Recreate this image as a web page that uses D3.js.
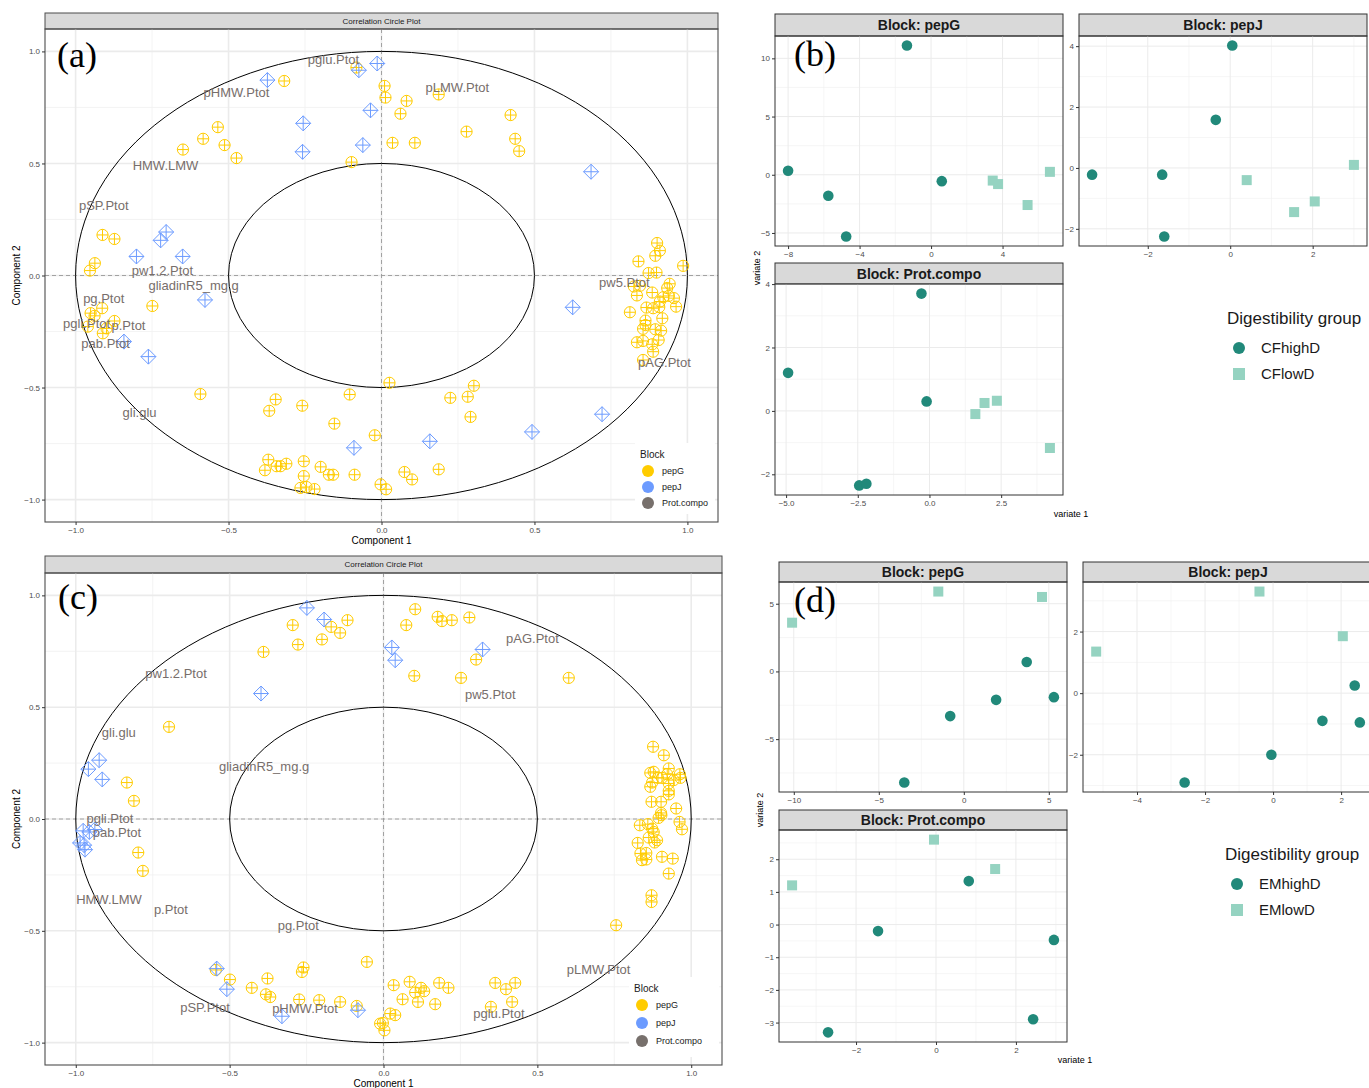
<!DOCTYPE html>
<html>
<head>
<meta charset="utf-8">
<script src="https://cdn.jsdelivr.net/npm/d3@7"></script>
<style>
  body { margin: 0; background: #fff; }
  text { font-family: 'Liberation Sans', Arial, sans-serif; }
</style>
</head>
<body>
<script>
// ---- data: correlation circle (a) ----
const pepG_a = [
  [-0.318, 0.868], [-0.535, 0.662], [-0.583, 0.610], [-0.649, 0.562], [-0.513, 0.582], [-0.474, 0.524], [-0.098, 0.506], [-0.082, 0.928],
  [0.010, 0.846], [0.013, 0.794], [0.082, 0.779], [0.062, 0.722], [0.187, 0.808], [0.422, 0.716], [0.278, 0.642], [0.437, 0.610], [0.450, 0.555], [0.036, 0.592], [0.109, 0.592],
  [-0.912, 0.181], [-0.873, 0.163], [-0.937, 0.055], [-0.953, 0.022],
  [0.901, 0.145], [0.910, 0.111], [0.895, 0.088], [0.840, 0.063], [0.986, 0.043], [0.873, 0.011], [0.899, 0.013], [0.825, -0.049], [0.845, -0.046],
  [0.885, -0.076], [0.835, -0.089], [0.942, -0.037], [0.934, -0.056], [0.921, -0.097], [0.910, -0.116], [0.956, -0.101], [0.939, -0.091], [0.963, -0.139],
  [0.866, -0.143], [0.888, -0.146], [0.908, -0.141], [0.812, -0.164], [0.918, -0.191], [0.863, -0.201], [0.863, -0.221], [0.855, -0.238], [0.895, -0.240],
  [0.914, -0.246], [0.835, -0.298], [0.855, -0.292], [0.906, -0.288], [0.885, -0.307], [0.888, -0.340], [0.855, -0.377],
  [0.026, -0.479], [0.302, -0.492], [0.225, -0.546], [0.282, -0.541], [0.291, -0.631], [-0.022, -0.713], [0.075, -0.877], [0.100, -0.910], [0.187, -0.865], [-0.003, -0.932], [0.015, -0.954],
  [-0.749, -0.136], [-0.913, -0.146], [-0.951, -0.168], [-0.938, -0.180], [-0.873, -0.203], [-0.960, -0.228], [-0.899, -0.236], [-0.911, -0.258],
  [-0.592, -0.529], [-0.346, -0.553], [-0.367, -0.604], [-0.259, -0.581], [-0.104, -0.531], [-0.154, -0.661], [-0.370, -0.822], [-0.381, -0.869], [-0.343, -0.851],
  [-0.330, -0.851], [-0.311, -0.840], [-0.254, -0.829], [-0.254, -0.895], [-0.199, -0.854], [-0.172, -0.889], [-0.158, -0.889], [-0.088, -0.889], [-0.265, -0.948], [-0.245, -0.944], [-0.219, -0.953]
]
const pepJ_a = [
  [-0.373, 0.872], [-0.256, 0.679], [-0.258, 0.552], [-0.061, 0.582], [-0.036, 0.737], [-0.074, 0.916], [-0.014, 0.946], [-0.704, 0.194], [-0.722, 0.157], [-0.801, 0.085],
  [-0.650, 0.085], [0.685, 0.463], [-0.577, -0.109], [-0.842, -0.295], [-0.762, -0.362], [-0.090, -0.769], [0.158, -0.740], [0.492, -0.698], [0.721, -0.619], [0.625, -0.142]
]
const protVars_a = [
  ['pglu.Ptot', -0.157, 0.965], ['pHMW.Ptot', -0.474, 0.818], ['pLMW.Ptot', 0.248, 0.840], ['HMW.LMW', -0.706, 0.491], ['pSP.Ptot', -0.908, 0.312],
  ['pw1.2.Ptot', -0.716, 0.021], ['gliadinR5_mg.g', -0.614, -0.046], ['pg.Ptot', -0.908, -0.104], ['pgli.Ptot', -0.964, -0.212], ['p.Ptot', -0.827, -0.221],
  ['pab.Ptot', -0.902, -0.301], ['gli.glu', -0.791, -0.610], ['pw5.Ptot', 0.794, -0.033], ['pAG.Ptot', 0.925, -0.386]
]

// ---- data: correlation circle (c) ----
const pepG_c = [
  [-0.295, 0.867], [-0.278, 0.780], [-0.390, 0.747], [-0.200, 0.803], [-0.170, 0.859], [-0.141, 0.832], [-0.117, 0.889], [-0.697, 0.412], [-0.834, 0.163], [-0.811, 0.081],
  [0.103, 0.938], [0.074, 0.867], [0.176, 0.904], [0.190, 0.885], [0.222, 0.889], [0.279, 0.901], [0.301, 0.713], [0.100, 0.640], [0.252, 0.631], [0.602, 0.631],
  [0.876, 0.323], [0.911, 0.285], [0.867, 0.206], [0.878, 0.211], [0.927, 0.226], [0.922, 0.200], [0.963, 0.200], [0.965, 0.184], [0.892, 0.184], [0.905, 0.184],
  [0.943, 0.174], [0.927, 0.159], [0.867, 0.144], [0.873, 0.163], [0.927, 0.126], [0.927, 0.110], [0.871, 0.077], [0.902, 0.077], [0.951, 0.047], [0.902, 0.027],
  [0.894, 0.005], [0.962, -0.013], [0.833, -0.028], [0.859, -0.023], [0.873, -0.043], [0.903, 0.017], [0.970, -0.046], [0.878, -0.058], [0.862, -0.083], [0.889, -0.095],
  [0.881, -0.105], [0.826, -0.107], [0.835, -0.154], [0.854, -0.152], [0.840, -0.184], [0.854, -0.181], [0.905, -0.169], [0.940, -0.177], [0.927, -0.244], [0.871, -0.341],
  [0.871, -0.371], [0.756, -0.475],
  [-0.054, -0.639], [0.033, -0.743], [0.085, -0.728], [0.062, -0.806], [0.103, -0.776], [0.122, -0.755], [0.132, -0.770], [0.112, -0.818], [0.181, -0.733], [0.211, -0.755],
  [0.168, -0.828], [0.022, -0.870], [0.038, -0.877], [-0.002, -0.912], [0.003, -0.945], [0.363, -0.733], [0.398, -0.761], [0.428, -0.733], [0.349, -0.840], [0.418, -0.818],
  [-0.797, -0.150], [-0.782, -0.232],
  [-0.545, -0.675], [-0.499, -0.718], [-0.428, -0.755], [-0.377, -0.713], [-0.382, -0.784], [-0.368, -0.796], [-0.274, -0.807], [-0.260, -0.664], [-0.265, -0.684],
  [-0.209, -0.810], [-0.141, -0.818], [-0.087, -0.836], [-0.011, -0.915]
]
const pepJ_c = [
  [-0.249, 0.944], [-0.193, 0.892], [-0.398, 0.561], [-0.924, 0.263], [-0.959, 0.223], [-0.914, 0.177], [0.027, 0.767], [0.038, 0.710], [0.322, 0.758],
  [-0.976, -0.053], [-0.956, -0.058], [-0.938, -0.047], [-0.986, -0.107], [-0.973, -0.117], [-0.970, -0.137], [-0.542, -0.669], [-0.509, -0.761], [-0.330, -0.882], [-0.083, -0.855]
]
const protVars_c = [
  ['pw1.2.Ptot', -0.674, 0.652], ['gli.glu', -0.860, 0.388], ['gliadinR5_mg.g', -0.388, 0.236], ['pAG.Ptot', 0.484, 0.808], ['pw5.Ptot', 0.347, 0.558],
  ['pgli.Ptot', -0.889, 0.002], ['pab.Ptot', -0.866, -0.060], ['HMW.LMW', -0.892, -0.359], ['p.Ptot', -0.691, -0.403], ['pg.Ptot', -0.277, -0.475],
  ['pSP.Ptot', -0.580, -0.841], ['pHMW.Ptot', -0.255, -0.846], ['pLMW.Ptot', 0.699, -0.672], ['pglu.Ptot', 0.375, -0.869]
]
const blockNames = ['pepG', 'pepJ', 'Prot.compo']
const blockColors = ['#FFCC00', '#6C9BFF', '#77706C']

// ---- data: sample plots (b) CF groups ----
const b_pepG_high = [[-1.35, 11.1], [-8.0, 0.35], [-5.75, -1.8], [-4.75, -5.3], [0.6, -0.55]]
const b_pepG_low = [[3.45, -0.5], [3.75, -0.8], [5.4, -2.6], [6.65, 0.25]]
const b_pepJ_high = [[0.05, 4.02], [-0.35, 1.58], [-3.35, -0.22], [-1.65, -0.22], [-1.6, -2.25]]
const b_pepJ_low = [[0.4, -0.4], [1.55, -1.45], [2.05, -1.1], [3.0, 0.1]]
const b_prot_high = [[-0.28, 3.7], [-4.93, 1.2], [-0.1, 0.3], [-2.45, -2.35], [-2.2, -2.3]]
const b_prot_low = [[1.6, -0.1], [1.92, 0.25], [2.35, 0.32], [4.2, -1.17]]

// ---- data: sample plots (d) EM groups ----
const d_pepG_high = [[3.7, 0.7], [1.9, -2.1], [5.3, -1.9], [-0.8, -3.3], [-3.5, -8.2]]
const d_pepG_low = [[-10.1, 3.6], [-1.5, 5.9], [4.6, 5.5]]
const d_pepJ_high = [[2.4, 0.25], [2.55, -0.95], [1.45, -0.9], [-0.05, -2.0], [-2.6, -2.9]]
const d_pepJ_low = [[-5.2, 1.35], [-0.4, 3.3], [2.05, 1.85]]
const d_prot_high = [[0.82, 1.33], [-1.45, -0.2], [2.95, -0.47], [-2.7, -3.3], [2.43, -2.9]]
const d_prot_low = [[-3.6, 1.2], [-0.05, 2.6], [1.48, 1.7]]

const groupColors = ['#21897A', '#95D3C1']

const svg = d3.select('body').append('svg')
  .attr('width', 1369).attr('height', 1088)
  .attr('viewBox', '0 0 1369 1088')

const TICK_COLOR = '#4D4D4D'
const BORDER = '#4D4D4D'

const drawGrid = (g, x, y, xMajor, yMajor, xMinor, yMinor, major = 1.4, minor = 0.7) => {
  const [x0, x1] = x.range()
  const [y1, y0] = y.range()
  xMinor.forEach(v => g.append('line').attr('x1', x(v)).attr('x2', x(v)).attr('y1', y0).attr('y2', y1).attr('stroke', '#F0F0F0').attr('stroke-width', minor))
  yMinor.forEach(v => g.append('line').attr('y1', y(v)).attr('y2', y(v)).attr('x1', x0).attr('x2', x1).attr('stroke', '#F0F0F0').attr('stroke-width', minor))
  xMajor.forEach(v => g.append('line').attr('x1', x(v)).attr('x2', x(v)).attr('y1', y0).attr('y2', y1).attr('stroke', '#EBEBEB').attr('stroke-width', major))
  yMajor.forEach(v => g.append('line').attr('y1', y(v)).attr('y2', y(v)).attr('x1', x0).attr('x2', x1).attr('stroke', '#EBEBEB').attr('stroke-width', major))
}

const styleAxis = (a, size) => a
  .call(s => s.select('.domain').remove())
  .call(s => s.selectAll('line').attr('stroke', '#333'))
  .call(s => s.selectAll('text').attr('fill', TICK_COLOR).style('font-size', size + 'px').style('font-family', "'Liberation Sans', Arial, sans-serif"))

const drawAxes = (g, x, y, xTicks, yTicks, xFmt, yFmt, size = 8) => {
  const [x0] = x.range()
  const [y1] = y.range()
  g.append('g').attr('transform', `translate(0,${y1})`)
    .call(d3.axisBottom(x).tickValues(xTicks).tickFormat(xFmt).tickSize(3).tickSizeOuter(0).tickPadding(2))
    .call(a => styleAxis(a, size))
  g.append('g').attr('transform', `translate(${x0},0)`)
    .call(d3.axisLeft(y).tickValues(yTicks).tickFormat(yFmt).tickSize(3).tickSizeOuter(0).tickPadding(2))
    .call(a => styleAxis(a, size))
}

// ---- correlation circle panel ----
const drawCorr = (cfg) => {
  const g = svg.append('g')
  const x = d3.scaleLinear().domain([-1.1, 1.1]).range([cfg.left, cfg.right])
  const y = d3.scaleLinear().domain([-1.1, 1.1]).range([cfg.bottom, cfg.top])

  // strip
  g.append('rect').attr('x', cfg.left).attr('y', cfg.stripTop).attr('width', cfg.right - cfg.left).attr('height', cfg.top - cfg.stripTop)
    .attr('fill', '#D9D9D9').attr('stroke', BORDER).attr('stroke-width', 1)
  g.append('text').attr('x', (cfg.left + cfg.right) / 2).attr('y', (cfg.top + cfg.stripTop) / 2).attr('dy', '0.35em')
    .attr('text-anchor', 'middle').style('font-size', '8px').attr('fill', '#1A1A1A').text('Correlation Circle Plot')

  drawGrid(g, x, y, [-1, -0.5, 0, 0.5, 1], [-1, -0.5, 0, 0.5, 1], [-0.75, -0.25, 0.25, 0.75], [-0.75, -0.25, 0.25, 0.75], 1.6, 0.8)

  // dashed zero lines
  g.append('line').attr('x1', x(0)).attr('x2', x(0)).attr('y1', cfg.top).attr('y2', cfg.bottom)
    .attr('stroke', '#9A9A9A').attr('stroke-dasharray', '4,3').attr('stroke-width', 0.9)
  g.append('line').attr('y1', y(0)).attr('y2', y(0)).attr('x1', cfg.left).attr('x2', cfg.right)
    .attr('stroke', '#9A9A9A').attr('stroke-dasharray', '4,3').attr('stroke-width', 0.9)

  // circles r=1, r=0.5
  ;[1, 0.5].forEach(r => {
    g.append('ellipse').attr('cx', x(0)).attr('cy', y(0))
      .attr('rx', x(r) - x(0)).attr('ry', y(0) - y(r))
      .attr('fill', 'none').attr('stroke', '#000').attr('stroke-width', 1)
  })

  // pepG: circle-plus
  const gp = g.append('g').attr('stroke', blockColors[0]).attr('fill', 'none').attr('stroke-width', 1)
  cfg.pepG.forEach(([vx, vy]) => {
    const cx = x(vx), cy = y(vy), r = 5.6
    gp.append('circle').attr('cx', cx).attr('cy', cy).attr('r', r)
    gp.append('path').attr('d', `M${cx - r},${cy}H${cx + r}M${cx},${cy - r}V${cy + r}`)
  })
  // pepJ: diamond-plus
  const gj = g.append('g').attr('stroke', blockColors[1]).attr('fill', 'none').attr('stroke-width', 1)
  cfg.pepJ.forEach(([vx, vy]) => {
    const cx = x(vx), cy = y(vy), r = 7.5
    gj.append('path').attr('d', `M${cx},${cy - r}L${cx + r},${cy}L${cx},${cy + r}L${cx - r},${cy}Z`)
    gj.append('path').attr('d', `M${cx - r},${cy}H${cx + r}M${cx},${cy - r}V${cy + r}`)
  })

  // Prot.compo variable names
  g.append('g').selectAll('text').data(cfg.prot).join('text')
    .attr('x', d => x(d[1])).attr('y', d => y(d[2])).attr('dy', '0.35em')
    .attr('text-anchor', 'middle').attr('fill', '#776E6B').style('font-size', '13px')
    .text(d => d[0])

  // border
  g.append('rect').attr('x', cfg.left).attr('y', cfg.top).attr('width', cfg.right - cfg.left).attr('height', cfg.bottom - cfg.top)
    .attr('fill', 'none').attr('stroke', BORDER).attr('stroke-width', 1.1)

  const f1 = d3.format('.1f')
  drawAxes(g, x, y, [-1, -0.5, 0, 0.5, 1], [-1, -0.5, 0, 0.5, 1], f1, f1)

  g.append('text').attr('x', x(0)).attr('y', cfg.bottom + 18).attr('dy', '0.35em').attr('text-anchor', 'middle').style('font-size', '10px').text('Component  1')
  g.append('text').attr('transform', `translate(${cfg.left - 29},${y(0)}) rotate(-90)`).attr('dy', '0.35em').attr('text-anchor', 'middle').style('font-size', '10px').text('Component  2')

  // legend
  const L = cfg.legend
  g.append('rect').attr('x', L.x).attr('y', L.y).attr('width', L.w).attr('height', L.h).attr('fill', '#fff')
  g.append('text').attr('x', L.x + 5).attr('y', L.y + 11).attr('dy', '0.35em').style('font-size', '10px').attr('fill', '#1A1A1A').text('Block')
  blockNames.forEach((name, i) => {
    const cy = L.y + 28 + i * L.step
    g.append('circle').attr('cx', L.x + 13).attr('cy', cy).attr('r', 6).attr('fill', blockColors[i])
    g.append('text').attr('x', L.x + 27).attr('y', cy).attr('dy', '0.35em').style('font-size', '9px').attr('fill', '#1A1A1A').text(name)
  })
}

// ---- faceted sample plot ----
const expand = (vals) => {
  const [a, b] = d3.extent(vals)
  const e = (b - a) * 0.05
  return [a - e, b + e]
}

const drawFacet = (p) => {
  const g = svg.append('g')
  const all = p.high.concat(p.low)
  const x = d3.scaleLinear().domain(expand(all.map(d => d[0]))).range([p.x0, p.x1])
  const y = d3.scaleLinear().domain(expand(all.map(d => d[1]))).range([p.bottom, p.top])

  const clipId = 'clip' + Math.round(p.x0) + '_' + Math.round(p.top)
  g.append('clipPath').attr('id', clipId).append('rect').attr('x', p.x0).attr('y', p.top).attr('width', p.x1 - p.x0).attr('height', p.bottom - p.top)

  g.append('rect').attr('x', p.x0).attr('y', p.stripTop).attr('width', p.x1 - p.x0).attr('height', p.top - p.stripTop)
    .attr('fill', '#D9D9D9').attr('stroke', '#333').attr('stroke-width', 1)
  g.append('text').attr('x', (p.x0 + p.x1) / 2).attr('y', (p.top + p.stripTop) / 2).attr('dy', '0.36em')
    .attr('text-anchor', 'middle').style('font-size', '14px').style('font-weight', 'bold').attr('fill', '#1A1A1A').text(p.title)

  const gg = g.append('g').attr('clip-path', `url(#${clipId})`)
  drawGrid(gg, x, y, p.xTicks, p.yTicks, p.xMinor, p.yMinor, 1, 0.6)

  gg.selectAll('rect.low').data(p.low).join('rect').attr('class', 'low')
    .attr('x', d => x(d[0]) - 5).attr('y', d => y(d[1]) - 5).attr('width', 10).attr('height', 10)
    .attr('fill', groupColors[1])
  gg.selectAll('circle.high').data(p.high).join('circle').attr('class', 'high')
    .attr('cx', d => x(d[0])).attr('cy', d => y(d[1])).attr('r', 5.3)
    .attr('fill', groupColors[0])

  g.append('rect').attr('x', p.x0).attr('y', p.top).attr('width', p.x1 - p.x0).attr('height', p.bottom - p.top)
    .attr('fill', 'none').attr('stroke', '#333').attr('stroke-width', 1)

  drawAxes(g, x, y, p.xTicks, p.yTicks, p.xFmt || d3.format('d'), d3.format('d'), 8)
}

const drawGroupLegend = (lx, ly, names) => {
  const g = svg.append('g')
  g.append('text').attr('x', lx).attr('y', ly).attr('dy', '0.35em').style('font-size', '17px').attr('fill', '#1A1A1A').text('Digestibility group')
  g.append('circle').attr('cx', lx + 12).attr('cy', ly + 30).attr('r', 6).attr('fill', groupColors[0])
  g.append('rect').attr('x', lx + 6).attr('y', ly + 50).attr('width', 12).attr('height', 12).attr('fill', groupColors[1])
  names.forEach((n, i) => {
    g.append('text').attr('x', lx + 34).attr('y', ly + 30 + i * 26).attr('dy', '0.35em').style('font-size', '15px').attr('fill', '#1A1A1A').text(n)
  })
}

const tag = (label, tx, ty) => svg.append('text').attr('x', tx).attr('y', ty)
  .style('font-family', "'Liberation Serif', 'Times New Roman', serif").style('font-size', '36px').attr('fill', '#000').text(label)

// (a)
drawCorr({
  left: 45, right: 718, stripTop: 13, top: 29, bottom: 522,
  pepG: pepG_a, pepJ: pepJ_a, prot: protVars_a,
  legend: { x: 635, y: 443, w: 80, h: 71, step: 16 }
})

// (c)
drawCorr({
  left: 45, right: 722, stripTop: 556, top: 573, bottom: 1065,
  pepG: pepG_c, pepJ: pepJ_c, prot: protVars_c,
  legend: { x: 629, y: 977, w: 90, h: 80, step: 18 }
})

// (b)
drawFacet({ x0: 775, x1: 1063, stripTop: 14, top: 36, bottom: 246, title: 'Block: pepG', high: b_pepG_high, low: b_pepG_low,
  xTicks: [-8, -4, 0, 4], yTicks: [-5, 0, 5, 10], xMinor: [-6, -2, 2, 6], yMinor: [-2.5, 2.5, 7.5] })
drawFacet({ x0: 1079, x1: 1367, stripTop: 14, top: 36, bottom: 246, title: 'Block: pepJ', high: b_pepJ_high, low: b_pepJ_low,
  xTicks: [-2, 0, 2], yTicks: [-2, 0, 2, 4], xMinor: [-3, -1, 1, 3], yMinor: [-1, 1, 3] })
drawFacet({ x0: 775, x1: 1063, stripTop: 263, top: 284, bottom: 495, title: 'Block: Prot.compo', high: b_prot_high, low: b_prot_low,
  xTicks: [-5, -2.5, 0, 2.5], yTicks: [-2, 0, 2, 4], xMinor: [-3.75, -1.25, 1.25, 3.75], yMinor: [-1, 1, 3], xFmt: d3.format('.1f') })
svg.append('text').attr('x', 1071).attr('y', 514).attr('dy', '0.35em').attr('text-anchor', 'middle').style('font-size', '9px').text('variate 1')
svg.append('text').attr('transform', 'translate(757,268) rotate(-90)').attr('dy', '0.35em').attr('text-anchor', 'middle').style('font-size', '9px').text('variate 2')
drawGroupLegend(1227, 318, ['CFhighD', 'CFlowD'])

// (d)
drawFacet({ x0: 779, x1: 1067, stripTop: 562, top: 582, bottom: 792, title: 'Block: pepG', high: d_pepG_high, low: d_pepG_low,
  xTicks: [-10, -5, 0, 5], yTicks: [-5, 0, 5], xMinor: [-7.5, -2.5, 2.5], yMinor: [-7.5, -2.5, 2.5] })
drawFacet({ x0: 1083, x1: 1373, stripTop: 562, top: 582, bottom: 792, title: 'Block: pepJ', high: d_pepJ_high, low: d_pepJ_low,
  xTicks: [-4, -2, 0, 2], yTicks: [-2, 0, 2], xMinor: [-5, -3, -1, 1], yMinor: [-3, -1, 1, 3] })
drawFacet({ x0: 779, x1: 1067, stripTop: 810, top: 830, bottom: 1042, title: 'Block: Prot.compo', high: d_prot_high, low: d_prot_low,
  xTicks: [-2, 0, 2], yTicks: [-3, -2, -1, 0, 1, 2], xMinor: [-3, -1, 1, 3], yMinor: [-2.5, -1.5, -0.5, 0.5, 1.5, 2.5] })
svg.append('text').attr('x', 1075).attr('y', 1060).attr('dy', '0.35em').attr('text-anchor', 'middle').style('font-size', '9px').text('variate 1')
svg.append('text').attr('transform', 'translate(760,810) rotate(-90)').attr('dy', '0.35em').attr('text-anchor', 'middle').style('font-size', '9px').text('variate 2')
drawGroupLegend(1225, 854, ['EMhighD', 'EMlowD'])

tag('(a)', 57, 67)
tag('(b)', 794, 66)
tag('(c)', 58, 609)
tag('(d)', 794, 612)
</script>
</body>
</html>
